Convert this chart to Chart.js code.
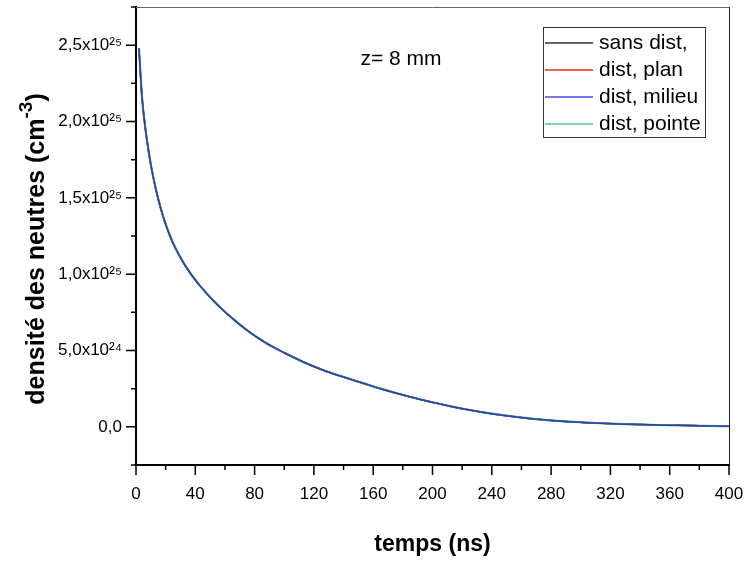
<!DOCTYPE html>
<html>
<head>
<meta charset="utf-8">
<script src="https://cdn.jsdelivr.net/npm/chart.js@4"></script>
<style>
  html, body { margin: 0; padding: 0; background: #fff; }
  #wrap { width: 745px; height: 565px; }
</style>
</head>
<body>
<div id="wrap"><canvas id="graf" width="745" height="565"></canvas></div>
<script>
// temps en ns
const temps = [2, 4, 6.5, 9, 12, 15, 18, 21, 24.5, 29, 33.5, 38, 43.5, 50, 57, 65, 75, 87, 100, 110,
    120, 132, 145, 155, 165, 177, 190, 200, 211, 224, 240, 258, 275, 292, 310, 325, 340, 359, 380, 400];

// densité des neutres (cm-3), les 4 courbes se superposent
const sansDist = [2.48e25, 2.165e25, 1.94e25, 1.774e25, 1.618e25, 1.492e25, 1.387e25, 1.30e25, 1.214e25, 1.126e25,
    1.052e25, 0.988e25, 0.92e25, 0.849e25, 0.78e25, 0.71e25, 0.632e25, 0.553e25, 0.485e25, 0.438e25,
    0.395e25, 0.351e25, 0.311e25, 0.280e25, 0.250e25, 0.217e25, 0.184e25, 0.161e25, 0.137e25, 0.112e25,
    0.086e25, 0.063e25, 0.046e25, 0.034e25, 0.025e25, 0.019e25, 0.0145e25, 0.011e25, 0.0072e25, 0.0042e25];
const distPlan = [2.48e25, 2.165e25, 1.94e25, 1.774e25, 1.618e25, 1.492e25, 1.387e25, 1.30e25, 1.214e25, 1.126e25,
    1.052e25, 0.988e25, 0.92e25, 0.849e25, 0.78e25, 0.71e25, 0.632e25, 0.553e25, 0.485e25, 0.438e25,
    0.395e25, 0.351e25, 0.311e25, 0.280e25, 0.250e25, 0.217e25, 0.184e25, 0.161e25, 0.137e25, 0.112e25,
    0.086e25, 0.063e25, 0.046e25, 0.034e25, 0.025e25, 0.019e25, 0.0145e25, 0.011e25, 0.0072e25, 0.0042e25];
const distMilieu = [2.48e25, 2.165e25, 1.94e25, 1.774e25, 1.618e25, 1.492e25, 1.387e25, 1.30e25, 1.214e25, 1.126e25,
    1.052e25, 0.988e25, 0.92e25, 0.849e25, 0.78e25, 0.71e25, 0.632e25, 0.553e25, 0.485e25, 0.438e25,
    0.395e25, 0.351e25, 0.311e25, 0.280e25, 0.250e25, 0.217e25, 0.184e25, 0.161e25, 0.137e25, 0.112e25,
    0.086e25, 0.063e25, 0.046e25, 0.034e25, 0.025e25, 0.019e25, 0.0145e25, 0.011e25, 0.0072e25, 0.0042e25];
const distPointe = [2.48e25, 2.165e25, 1.94e25, 1.774e25, 1.618e25, 1.492e25, 1.387e25, 1.30e25, 1.214e25, 1.126e25,
    1.052e25, 0.988e25, 0.92e25, 0.849e25, 0.78e25, 0.71e25, 0.632e25, 0.553e25, 0.485e25, 0.438e25,
    0.395e25, 0.351e25, 0.311e25, 0.280e25, 0.250e25, 0.217e25, 0.184e25, 0.161e25, 0.137e25, 0.112e25,
    0.086e25, 0.063e25, 0.046e25, 0.034e25, 0.025e25, 0.019e25, 0.0145e25, 0.011e25, 0.0072e25, 0.0042e25];

const nomsSeries = ['sans dist,', 'dist, plan', 'dist, milieu', 'dist, pointe'];

// graduations
const xTicks = [0, 40, 80, 120, 160, 200, 240, 280, 320, 360, 400];
const xMinor = [20, 60, 100, 140, 180, 220, 260, 300, 340, 380];
const yTicks = [0, 5e24, 1e25, 1.5e25, 2e25, 2.5e25];
const yLabels = ['0,0', '5,0x10²⁴', '1,0x10²⁵', '1,5x10²⁵', '2,0x10²⁵', '2,5x10²⁵'];
const yMinor = [-2.5e24, 2.5e24, 7.5e24, 1.25e25, 1.75e25, 2.25e25, 2.75e25];

const police = "'Liberation Sans', Arial, sans-serif";

function points(valeurs) {
    return temps.map((t, i) => ({ x: t, y: valeurs[i] }));
}

// cadre, petites graduations, titre Y, légende et texte z=
const cadrePlugin = {
    id: 'cadre',
    afterDraw(chart) {
        const ctx = chart.ctx;
        const a = chart.chartArea;
        const sx = chart.scales.x, sy = chart.scales.y;
        ctx.save();
        // bords haut et droit
        ctx.strokeStyle = '#666';
        ctx.lineWidth = 1;
        ctx.beginPath();
        ctx.moveTo(a.left, a.top + 0.5); ctx.lineTo(a.right, a.top + 0.5);
        ctx.stroke();
        ctx.strokeStyle = '#222';
        ctx.beginPath();
        ctx.moveTo(a.right + 0.5, a.top); ctx.lineTo(a.right + 0.5, a.bottom);
        ctx.stroke();

        // graduations vers l'extérieur
        ctx.strokeStyle = '#000';
        ctx.lineWidth = 1.5;
        ctx.beginPath();
        xTicks.forEach(v => { const p = sx.getPixelForValue(v); ctx.moveTo(p, a.bottom); ctx.lineTo(p, a.bottom + 10); });
        xMinor.forEach(v => { const p = sx.getPixelForValue(v); ctx.moveTo(p, a.bottom); ctx.lineTo(p, a.bottom + 5); });
        yTicks.forEach(v => { const p = sy.getPixelForValue(v); ctx.moveTo(a.left, p); ctx.lineTo(a.left - 10, p); });
        yMinor.forEach(v => { const p = sy.getPixelForValue(v); ctx.moveTo(a.left, p); ctx.lineTo(a.left - 5, p); });
        ctx.stroke();

        // titre de l'axe Y avec exposant
        ctx.save();
        ctx.translate(35, 249);
        ctx.rotate(-Math.PI / 2);
        ctx.fillStyle = '#000';
        ctx.textBaseline = 'alphabetic';
        ctx.textAlign = 'left';
        const t1 = 'densité des neutres (cm', t2 = '-3', t3 = ')';
        const fGros = 'bold 25px ' + police, fPetit = 'bold 19px ' + police;
        ctx.font = fGros; const w1 = ctx.measureText(t1).width, w3 = ctx.measureText(t3).width;
        ctx.font = fPetit; const w2 = ctx.measureText(t2).width;
        let x0 = -(w1 + w2 + w3) / 2;
        ctx.font = fGros; ctx.fillText(t1, x0, 9);
        ctx.font = fPetit; ctx.fillText(t2, x0 + w1, -3);
        ctx.font = fGros; ctx.fillText(t3, x0 + w1 + w2, 9);
        ctx.restore();

        // légende encadrée
        const bx = a.right - 186, by = a.top + 20, bw = 162, bh = 110;
        ctx.strokeStyle = '#333';
        ctx.lineWidth = 1;
        ctx.strokeRect(bx + 0.5, by + 0.5, bw, bh);
        ctx.font = '21px ' + police;
        ctx.textBaseline = 'middle';
        ctx.textAlign = 'left';
        chart.data.datasets.forEach((ds, i) => {
            const yy = by + 16 + i * 27;
            ctx.strokeStyle = ds.couleurLegende;
            ctx.lineWidth = 1.5;
            ctx.beginPath();
            ctx.moveTo(bx + 2, yy); ctx.lineTo(bx + 50, yy);
            ctx.stroke();
            ctx.fillStyle = '#000';
            ctx.fillText(ds.label, bx + 56, yy);
        });

        // annotation
        ctx.font = '21px ' + police;
        ctx.textAlign = 'center';
        ctx.fillText('z= 8 mm', 401, 59);
        ctx.restore();
    }
};

const couleurs = ['#000000', '#d42020', '#2a44a8', '#4fa0a8'];
const couleursLegende = ['#333333', '#e82a2a', '#4848f0', '#66b8b8'];
const series = [sansDist, distPlan, distMilieu, distPointe];
const ordres = [4, 3, 1, 2];
const epaisseurs = [1.5, 1.5, 1.5, 2.2];

new Chart(document.getElementById('graf').getContext('2d'), {
    type: 'line',
    data: {
        datasets: series.map((s, i) => ({
            label: nomsSeries[i],
            data: points(s),
            borderColor: couleurs[i],
            couleurLegende: couleursLegende[i],
            borderWidth: epaisseurs[i],
            pointRadius: 0,
            fill: false,
            cubicInterpolationMode: 'monotone',
            order: ordres[i]
        }))
    },
    options: {
        responsive: false,
        animation: false,
        layout: { padding: { left: 0, top: 7, right: 16, bottom: 0 } },
        plugins: { legend: { display: false }, tooltip: { enabled: false } },
        scales: {
            x: {
                type: 'linear',
                min: 0,
                max: 400,
                afterBuildTicks: scale => { scale.ticks = xTicks.map(v => ({ value: v })); },
                afterFit: scale => { scale.height = 100; scale.paddingLeft = 0; scale.paddingRight = 0; },
                grid: { display: false },
                border: { display: true, color: '#000', width: 2 },
                ticks: { color: '#000', padding: 11, maxRotation: 0, autoSkip: false, font: { family: police, size: 17 } },
                title: { display: true, text: 'temps (ns)', color: '#000', padding: { top: 0, bottom: 7 }, font: { family: police, size: 23, weight: 'bold' } }
            },
            y: {
                min: -2.5e24,
                max: 2.75e25,
                afterBuildTicks: scale => { scale.ticks = yTicks.map(v => ({ value: v })); },
                afterFit: scale => { scale.width = 136; scale.paddingTop = 0; scale.paddingBottom = 0; },
                grid: { display: false },
                border: { display: true, color: '#000', width: 2 },
                ticks: {
                    color: '#000', padding: 6, autoSkip: false, font: { family: police, size: 17 },
                    callback: (v) => { const i = yTicks.indexOf(v); return i >= 0 ? yLabels[i] : ''; }
                },
                title: { display: false }
            }
        }
    },
    plugins: [cadrePlugin]
});
</script>
</body>
</html>
